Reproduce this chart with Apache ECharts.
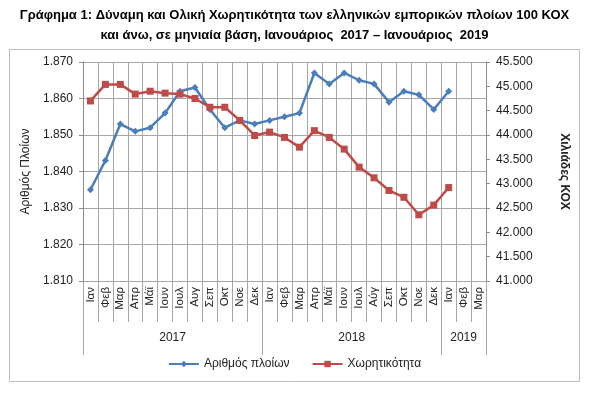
<!DOCTYPE html>
<html>
<head>
<meta charset="utf-8">
<script src="https://cdn.jsdelivr.net/npm/echarts@6/dist/echarts.min.js"></script>
<style>
  html, body { margin: 0; padding: 0; background: #fff; }
  #chart { width: 589px; height: 397px; }
</style>
</head>
<body>
<div id="chart"></div>
<script>
// μήνες (κατηγορίες)
const months = [
  'Ιαν', 'Φεβ', 'Μαρ', 'Απρ', 'Μάϊ', 'Ιουν', 'Ιουλ', 'Αυγ', 'Σεπ', 'Οκτ', 'Νοε', 'Δεκ',
  'Ιαν', 'Φεβ', 'Μαρ', 'Απρ', 'Μάϊ', 'Ιουν', 'Ιουλ', 'Αύγ', 'Σεπ', 'Οκτ', 'Νοε', 'Δεκ',
  'Ιαν', 'Φεβ', 'Μαρ'
]
const years = ['2017', '2018', '2019']
const yearSpans = [12, 12, 3]

// Αριθμός πλοίων
const ships = [
  1835, 1843, 1853, 1851, 1852, 1856, 1862, 1863, 1857, 1852, 1854, 1853,
  1854, 1855, 1856, 1867, 1864, 1867, 1865, 1864, 1859, 1862, 1861, 1857,
  1862, null, null
]
// Χωρητικότητα (χιλιάδες ΚΟΧ)
const tonnage = [
  44700, 45040, 45040, 44840, 44900, 44860, 44840, 44750, 44570, 44570, 44300, 43990,
  44060, 43950, 43750, 44090, 43950, 43710, 43340, 43120, 42860, 42720, 42360, 42560,
  42920, null, null
]

const leftTicks = { min: 1810, max: 1870, interval: 10 }
const rightTicks = { min: 41000, max: 45500, interval: 500 }

// θέσεις ετικετών έτους / διαχωριστικά
const yearStarts = []
const yearLabels = {}
let pos = 0
yearSpans.forEach((n, i) => {
  yearStarts.push(pos)
  if (n % 2 === 0) {
    yearLabels[pos + n / 2 - 1] = '{even|' + years[i] + '}'
  } else {
    yearLabels[pos + (n - 1) / 2] = '{odd|' + years[i] + '}'
  }
  pos += n
})

const fmtThousands = (v) => {
  const s = String(Math.round(v))
  return s.replace(/\B(?=(\d{3})+(?!\d))/g, '.')
}

const font = 'Liberation Sans'
const gridColor = '#a6a6a6'
const axisColor = '#8c8c8c'

const chart = echarts.init(document.getElementById('chart'))

chart.setOption({
  animation: false,
  textStyle: { fontFamily: font },
  title: {
    text: 'Γράφημα 1: Δύναμη και Ολική Χωρητικότητα των ελληνικών εμπορικών πλοίων 100 ΚΟΧ\nκαι άνω, σε μηνιαία βάση, Ιανουάριος  2017 – Ιανουάριος  2019',
    left: 'center',
    top: 0,
    textStyle: { fontFamily: font, fontSize: 13, fontWeight: 'bold', color: '#000', lineHeight: 20, align: 'center' }
  },
  graphic: [{
    type: 'rect',
    shape: { x: 9.5, y: 49.5, width: 570, height: 332 },
    style: { fill: 'none', stroke: '#bdbdbd', lineWidth: 1 },
    silent: true
  }],
  legend: {
    bottom: 22,
    left: 'center',
    itemWidth: 30,
    itemHeight: 8,
    itemGap: 22,
    textStyle: { fontFamily: font, fontSize: 12, color: '#222' },
    data: ['Αριθμός πλοίων', 'Χωρητικότητα']
  },
  grid: { left: 83, right: 103, top: 62, bottom: 116 },
  xAxis: [
    {
      type: 'category',
      data: months,
      boundaryGap: true,
      axisLine: { show: true, lineStyle: { color: gridColor } },
      axisTick: { show: true, interval: 0, length: 41, lineStyle: { color: gridColor } },
      axisLabel: { interval: 0, rotate: 90, margin: 6, fontSize: 11.5, color: '#222', fontFamily: font },
      splitLine: { show: true, interval: 0, lineStyle: { color: gridColor } }
    },
    {
      type: 'category',
      data: months,
      position: 'bottom',
      boundaryGap: true,
      axisLine: { show: false },
      axisTick: {
        show: true,
        length: 74,
        interval: (i) => yearStarts.includes(i),
        lineStyle: { color: gridColor }
      },
      axisLabel: {
        interval: 0,
        margin: 51,
        fontSize: 12,
        color: '#222',
        fontFamily: font,
        formatter: (v, i) => yearLabels[i] || '',
        rich: {
          even: { padding: [0, 0, 0, 15], fontSize: 12, fontFamily: font, color: '#222' },
          odd: { fontSize: 12, fontFamily: font, color: '#222' }
        }
      },
      splitLine: { show: false }
    }
  ],
  yAxis: [
    {
      type: 'value',
      position: 'left',
      min: leftTicks.min,
      max: leftTicks.max,
      interval: leftTicks.interval,
      name: 'Αριθμός Πλοίων',
      nameLocation: 'middle',
      nameGap: 48,
      nameRotate: 90,
      nameTextStyle: { fontFamily: font, fontSize: 12, color: '#222' },
      axisLine: { show: true, lineStyle: { color: axisColor } },
      axisTick: { show: true, length: 4, lineStyle: { color: axisColor } },
      axisLabel: { formatter: fmtThousands, fontSize: 12, color: '#222', margin: 10, fontFamily: font },
      splitLine: { show: true, lineStyle: { color: gridColor } }
    },
    {
      type: 'value',
      position: 'right',
      min: rightTicks.min,
      max: rightTicks.max,
      interval: rightTicks.interval,
      name: 'Χιλιάδες ΚΟΧ',
      nameLocation: 'middle',
      nameGap: 72,
      nameRotate: -90,
      nameTextStyle: { fontFamily: font, fontSize: 12, fontWeight: 'bold', color: '#222' },
      axisLine: { show: true, lineStyle: { color: axisColor } },
      axisTick: { show: true, length: 4, lineStyle: { color: axisColor } },
      axisLabel: { formatter: fmtThousands, fontSize: 12, color: '#222', margin: 10, fontFamily: font },
      splitLine: { show: false }
    }
  ],
  series: [
    {
      name: 'Αριθμός πλοίων',
      type: 'line',
      yAxisIndex: 0,
      data: ships,
      symbol: 'diamond',
      symbolSize: 7,
      showSymbol: true,
      lineStyle: { width: 2.5, color: '#4a7ebb' },
      itemStyle: { color: '#4a7ebb' }
    },
    {
      name: 'Χωρητικότητα',
      type: 'line',
      yAxisIndex: 1,
      data: tonnage,
      symbol: 'rect',
      symbolSize: 7,
      showSymbol: true,
      lineStyle: { width: 2.5, color: '#be4b48' },
      itemStyle: { color: '#be4b48' }
    }
  ]
})
</script>
</body>
</html>
